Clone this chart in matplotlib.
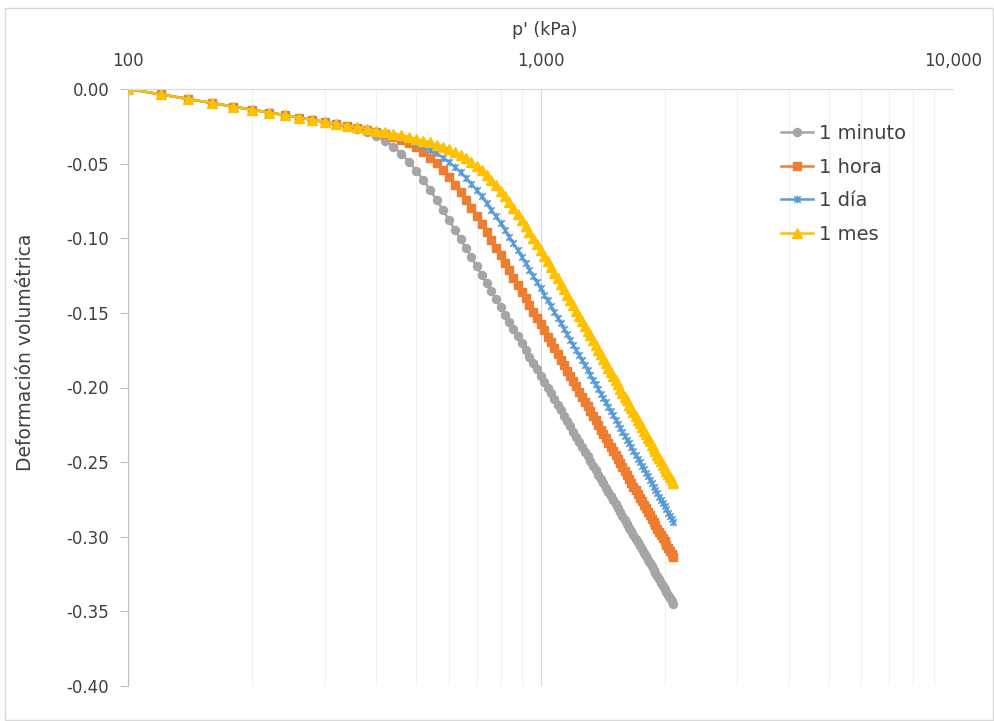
import numpy as np
import matplotlib
matplotlib.use("Agg")
import matplotlib.pyplot as plt
from matplotlib.patches import Rectangle
from matplotlib.path import Path
from matplotlib.ticker import FixedLocator, FuncFormatter, MultipleLocator, NullFormatter

# confining pressure steps, kPa
p = np.arange(100, 2101, 20)

# volumetric strain for each loading duration
minuto = [0.0, -0.0036, -0.0067, -0.0094, -0.0118, -0.0139, -0.0158, -0.0175, -0.0192, -0.0207,
          -0.0222, -0.0236, -0.0252, -0.0269, -0.0290, -0.0315, -0.0347, -0.0386, -0.0433, -0.0487,
          -0.0547, -0.0611, -0.0677, -0.0744, -0.0811, -0.0877, -0.0942, -0.1006, -0.1068, -0.1128,
          -0.1187, -0.1245, -0.1301, -0.1356, -0.1409, -0.1461, -0.1512, -0.1561, -0.1610, -0.1657,
          -0.1703, -0.1749, -0.1793, -0.1836, -0.1879, -0.1920, -0.1961, -0.2001, -0.2040, -0.2079,
          -0.2117, -0.2154, -0.2190, -0.2226, -0.2261, -0.2296, -0.2330, -0.2364, -0.2396, -0.2429,
          -0.2461, -0.2492, -0.2523, -0.2554, -0.2584, -0.2614, -0.2643, -0.2672, -0.2700, -0.2728,
          -0.2756, -0.2783, -0.2810, -0.2836, -0.2863, -0.2889, -0.2914, -0.2939, -0.2964, -0.2989,
          -0.3013, -0.3038, -0.3061, -0.3085, -0.3108, -0.3131, -0.3154, -0.3177, -0.3199, -0.3221,
          -0.3243, -0.3264, -0.3286, -0.3307, -0.3328, -0.3348, -0.3369, -0.3389, -0.3409, -0.3429,
          -0.3449]

hora = [0.0, -0.0036, -0.0067, -0.0094, -0.0118, -0.0139, -0.0158, -0.0175, -0.0191, -0.0206,
        -0.0221, -0.0234, -0.0247, -0.0261, -0.0274, -0.0288, -0.0304, -0.0321, -0.0341, -0.0364,
        -0.0391, -0.0423, -0.0459, -0.0499, -0.0543, -0.0590, -0.0640, -0.0692, -0.0745, -0.0798,
        -0.0852, -0.0906, -0.0959, -0.1012, -0.1064, -0.1115, -0.1165, -0.1215, -0.1263, -0.1310,
        -0.1357, -0.1403, -0.1447, -0.1491, -0.1534, -0.1577, -0.1618, -0.1659, -0.1698, -0.1738,
        -0.1776, -0.1814, -0.1851, -0.1887, -0.1923, -0.1959, -0.1993, -0.2027, -0.2061, -0.2094,
        -0.2126, -0.2159, -0.2190, -0.2221, -0.2252, -0.2282, -0.2312, -0.2341, -0.2370, -0.2399,
        -0.2427, -0.2455, -0.2482, -0.2509, -0.2536, -0.2562, -0.2589, -0.2614, -0.2640, -0.2665,
        -0.2690, -0.2714, -0.2739, -0.2763, -0.2786, -0.2810, -0.2833, -0.2856, -0.2879, -0.2901,
        -0.2923, -0.2945, -0.2967, -0.2989, -0.3010, -0.3031, -0.3052, -0.3073, -0.3093, -0.3113,
        -0.3133]

dia = [0.0, -0.0036, -0.0067, -0.0094, -0.0118, -0.0139, -0.0158, -0.0175, -0.0191, -0.0207,
       -0.0221, -0.0234, -0.0247, -0.0260, -0.0273, -0.0286, -0.0299, -0.0313, -0.0329, -0.0345,
       -0.0363, -0.0384, -0.0406, -0.0431, -0.0459, -0.0489, -0.0523, -0.0558, -0.0596, -0.0636,
       -0.0677, -0.0720, -0.0764, -0.0809, -0.0854, -0.0899, -0.0944, -0.0990, -0.1035, -0.1079,
       -0.1123, -0.1167, -0.1210, -0.1253, -0.1295, -0.1336, -0.1377, -0.1417, -0.1456, -0.1495,
       -0.1533, -0.1571, -0.1608, -0.1644, -0.1680, -0.1716, -0.1750, -0.1784, -0.1818, -0.1851,
       -0.1884, -0.1916, -0.1948, -0.1979, -0.2010, -0.2041, -0.2071, -0.2100, -0.2129, -0.2158,
       -0.2187, -0.2215, -0.2242, -0.2270, -0.2296, -0.2323, -0.2349, -0.2375, -0.2401, -0.2426,
       -0.2452, -0.2476, -0.2501, -0.2525, -0.2549, -0.2573, -0.2596, -0.2619, -0.2642, -0.2665,
       -0.2687, -0.2709, -0.2731, -0.2753, -0.2775, -0.2796, -0.2817, -0.2838, -0.2859, -0.2879,
       -0.2899]

mes = [0.0, -0.0036, -0.0067, -0.0094, -0.0118, -0.0139, -0.0158, -0.0175, -0.0191, -0.0206,
       -0.0220, -0.0233, -0.0245, -0.0257, -0.0268, -0.0279, -0.0290, -0.0301, -0.0311, -0.0322,
       -0.0334, -0.0346, -0.0358, -0.0372, -0.0387, -0.0404, -0.0423, -0.0443, -0.0465, -0.0490,
       -0.0517, -0.0546, -0.0577, -0.0610, -0.0645, -0.0681, -0.0719, -0.0757, -0.0796, -0.0836,
       -0.0876, -0.0916, -0.0956, -0.0997, -0.1037, -0.1076, -0.1116, -0.1155, -0.1193, -0.1231,
       -0.1269, -0.1306, -0.1343, -0.1379, -0.1415, -0.1450, -0.1485, -0.1519, -0.1553, -0.1586,
       -0.1619, -0.1651, -0.1683, -0.1715, -0.1746, -0.1776, -0.1806, -0.1836, -0.1866, -0.1895,
       -0.1923, -0.1951, -0.1979, -0.2007, -0.2034, -0.2061, -0.2087, -0.2114, -0.2140, -0.2165,
       -0.2190, -0.2215, -0.2240, -0.2265, -0.2289, -0.2313, -0.2336, -0.2360, -0.2383, -0.2406,
       -0.2428, -0.2451, -0.2473, -0.2495, -0.2516, -0.2538, -0.2559, -0.2580, -0.2601, -0.2622,
       -0.2642]

# x with a vertical bar, like the spreadsheet "star" marker
star = Path([(-1, -1), (1, 1), (-1, 1), (1, -1), (0, -1.2), (0, 1.2)],
            [Path.MOVETO, Path.LINETO, Path.MOVETO, Path.LINETO, Path.MOVETO, Path.LINETO])

series = [
    ("1 minuto", minuto, "#A5A5A5", "o", 5.8, {}),
    ("1 hora", hora, "#ED7D31", "s", 6.0, {}),
    ("1 día", dia, "#5B9BD5", star, 5.5, {"markeredgewidth": 1.2}),
    ("1 mes", mes, "#FFC000", "^", 7.0, {}),
]

plt.rcParams["font.family"] = ["DejaVu Sans"]
fig = plt.figure(figsize=(9.94, 7.21), dpi=100)
fig.patches.append(Rectangle((4.5 / 994, 1 / 721), 988 / 994, 712 / 721, transform=fig.transFigure,
                             fill=False, edgecolor="#d9d9d9", lw=1.0))
ax = fig.add_axes([128 / 994, 1 - 686 / 721, 825 / 994, 597 / 721])

for name, y, c, m, ms, kw in series:
    ax.plot(p, y, color=c, lw=1.8, marker=m, ms=ms, mec=c, mfc=c, label=name, **kw)

ax.set_xscale("log")
ax.set_xlim(100, 10000)
ax.set_ylim(-0.40, 0.0)

ax.xaxis.tick_top()
ax.xaxis.set_major_locator(FixedLocator([100, 1000, 10000]))
ax.xaxis.set_major_formatter(FuncFormatter(lambda v, _: f"{v:,.0f}"))
ax.xaxis.set_minor_formatter(NullFormatter())
ax.tick_params(axis="x", which="both", length=0, pad=14, labelsize=12, labelcolor="#404040")
ax.grid(which="major", axis="x", color="#d9d9d9", lw=0.8)
ax.grid(which="minor", axis="x", color="#efefef", lw=0.8)

ax.yaxis.set_major_locator(MultipleLocator(0.05))
ax.yaxis.set_major_formatter(FuncFormatter(lambda v, _: f"{v:.2f}"))
ax.tick_params(axis="y", length=5.5, width=0.8, color="#bfbfbf", pad=8, labelsize=12, labelcolor="#404040")

for side in ("right", "bottom"):
    ax.spines[side].set_visible(False)
ax.spines["left"].set_color("#bfbfbf")
ax.spines["top"].set_color("#d9d9d9")
ax.set_axisbelow(True)

fig.text(545 / 994, 1 - 30 / 721, "p' (kPa)", ha="center", va="center", fontsize=12.5, color="#404040")
ax.set_ylabel("Deformación volumétrica", fontsize=13.5, color="#404040")
ax.yaxis.set_label_coords(-(128 - 35) / 825, 1 - (352 - 89) / 597)

ax.legend(loc="upper left", bbox_to_anchor=((781 - 128) / 825, 1 - (124 - 89) / 597), frameon=False,
          fontsize=14, handlelength=1.65, handletextpad=0.3, labelspacing=0.75,
          borderpad=0, borderaxespad=0, labelcolor="#404040")

fig.savefig("out.png", dpi=100)
